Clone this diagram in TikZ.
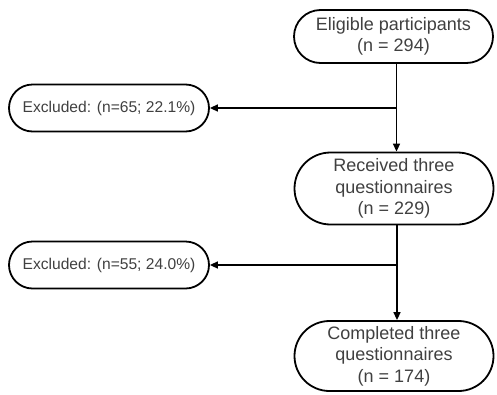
\documentclass[tikz,border=0pt]{standalone}
\usepackage{fontspec}
\setmainfont{Liberation Sans}
\usetikzlibrary{arrows.meta,shapes.misc}
\begin{document}
\begin{tikzpicture}[x=1pt,y=-1pt,
  mainbox/.style={rounded rectangle, draw=black, line width=1.8pt, minimum width=199pt, align=center, text=black!75, font=\fontsize{18}{21.5}\selectfont, inner sep=0pt},
  exbox/.style={rounded rectangle, draw=black, line width=1.8pt, minimum width=200pt, minimum height=47pt, text=black!75, font=\fontsize{15.6}{18}\selectfont, inner sep=0pt},
  flow/.style={line width=1.5pt, -{Triangle[length=8pt,width=7pt]}}]
\useasboundingbox (0,0) rectangle (497,394);
\node[mainbox, minimum height=53pt] (elig) at (393.5,36.5) {Eligible participants\\(n = 294)};
\node[mainbox, minimum height=72pt] (recv) at (394,188.5) {Received three\\questionnaires\\(n = 229)};
\node[mainbox, minimum height=70pt] (comp) at (394,356) {Completed three\\questionnaires\\(n = 174)};
\node[exbox] (ex1) at (109,108) {Excluded: (n=65; 22.1\%)};
\node[exbox] (ex2) at (109,265) {Excluded: (n=55; 24.0\%)};
\draw[flow] ([xshift=3pt]elig.south) -- ([xshift=3pt]elig.south |- recv.north);
\draw[flow] ([xshift=3pt]recv.south) -- ([xshift=3pt]recv.south |- comp.north);
\coordinate (b1) at ([xshift=3pt]elig.south |- ex1.east);
\coordinate (b2) at ([xshift=3pt]recv.south |- ex2.east);
\draw[flow] (b1) -- (ex1.east);
\draw[flow] (b2) -- (ex2.east);
\end{tikzpicture}
\end{document}
